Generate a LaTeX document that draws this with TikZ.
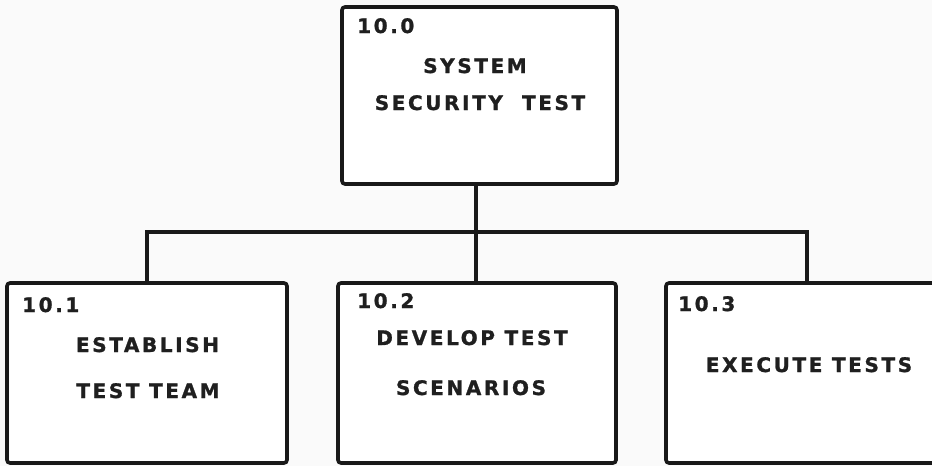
\documentclass[tikz,border=0pt]{standalone}
\usepackage{fontspec}
\setmainfont{DejaVu Sans}
\newfontfamily\chartfont[LetterSpace=13, FakeBold=1.2]{DejaVu Sans Bold}
\begin{document}
\begin{tikzpicture}[x=1pt, y=-1pt,
  wbs/.style={draw=black!90, line width=3.6pt, rounded corners=3pt, fill=white,
    inner sep=0pt, minimum width=#1, minimum height=180pt},
  wbs/.default=280pt,
  code/.style={anchor=base west, inner sep=0pt, text=black!88, font=\chartfont\fontsize{20}{22}\selectfont},
  title/.style={anchor=base, inner sep=0pt, text=black!88, font=\chartfont\fontsize{20}{22}\selectfont},
  link/.style={draw=black!90, line width=3.6pt, line cap=rect}]
% page area
\fill[white!98!black] (0,0) rectangle (932,466);
\useasboundingbox (0,0) rectangle (932,466);
\clip (0,0) rectangle (932,466);

% boxes
\node[wbs=275pt, minimum height=177pt] (top) at (479.5,95.5) {};
\node[wbs=280pt] (b1) at (147,373) {};
\node[wbs=278pt] (b2) at (477,373) {};
\node[wbs=282pt] (b3) at (807,373) {};

% connectors
\coordinate (bus) at (476,232);
\draw[link] (top.south -| bus) -- (bus);
\draw[link] (b1.north) |- (bus) -| (b3.north);
\draw[link] (bus) -- (b2.north -| bus);

% labels of the top box
\node[code] (n0) at (357,33) {10.0};
\node[title] (t0a) at (475,73) {SYSTEM};
\node[title] (t0b) at (480,110) {SECURITY\ \ TEST};

% labels of the lower boxes
\node[code] (n1) at (22,312) {10.1};
\node[title] (t1a) at (147.5,352) {ESTABLISH};
\node[title] (t1b) at (148,398) {TEST TEAM};

\node[code] (n2) at (357,308) {10.2};
\node[title] (t2a) at (472,345) {DEVELOP TEST};
\node[title] (t2b) at (471,395) {SCENARIOS};

\node[code] (n3) at (678,311) {10.3};
\node[title] (t3a) at (809,372) {EXECUTE TESTS};
\end{tikzpicture}
\end{document}
